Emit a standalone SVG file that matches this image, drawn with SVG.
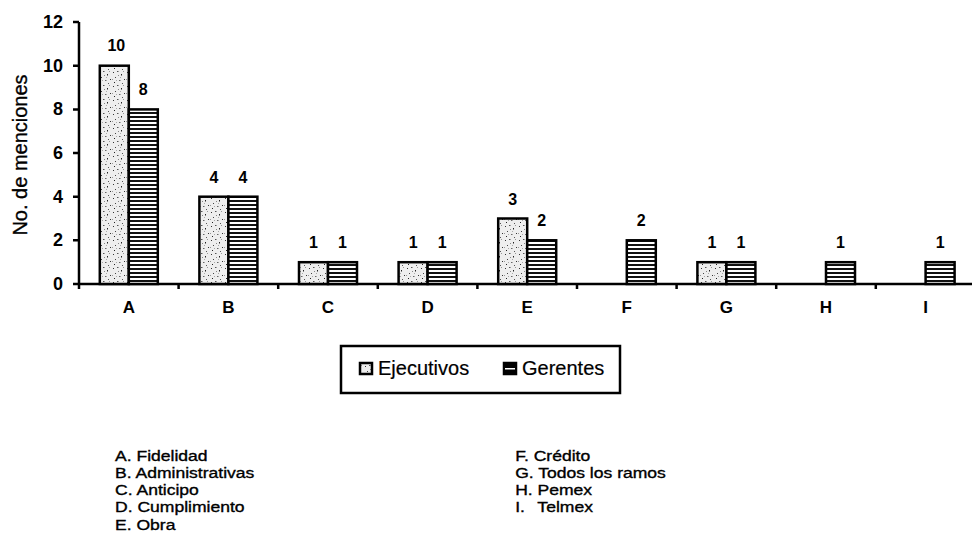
<svg xmlns="http://www.w3.org/2000/svg" width="972" height="549" viewBox="0 0 972 549">
<defs>
<pattern id="stip" width="14" height="14" patternUnits="userSpaceOnUse">
<rect width="14" height="14" fill="#eeeeee"/>
<rect x="1" y="2" width="1" height="1" fill="#333"/>
<rect x="5" y="1" width="1.5" height="1" fill="#555"/>
<rect x="9" y="4" width="1" height="1.5" fill="#222"/>
<rect x="3" y="7" width="1" height="1" fill="#444"/>
<rect x="12" y="9" width="1" height="1" fill="#333"/>
<rect x="7" y="10" width="1.5" height="1" fill="#666"/>
<rect x="2" y="12" width="1" height="1" fill="#222"/>
<rect x="10" y="13" width="1" height="1" fill="#555"/>
<rect x="6" y="5" width="1" height="1" fill="#888"/>
<rect x="11" y="1" width="1" height="1" fill="#999"/>
<rect x="0" y="9" width="1" height="1" fill="#999"/>
<rect x="8" y="7" width="1" height="1" fill="#aaa"/>
<rect x="4" y="10" width="1" height="1" fill="#aaa"/>
</pattern>
<pattern id="hstripe" width="8" height="4" patternUnits="userSpaceOnUse">
<rect width="8" height="4" fill="#fff"/>
<rect y="0" width="8" height="2" fill="#111"/>
</pattern>
</defs>
<style>
text{font-family:"Liberation Sans",Arial,sans-serif;fill:#000;stroke:#000;stroke-width:0.35}
.tick{font-size:18px;text-anchor:end;font-weight:bold;stroke-width:0}
.cat{font-size:17px;text-anchor:middle;font-weight:bold;stroke-width:0}
.val{font-size:16px;text-anchor:middle;font-weight:bold;stroke-width:0}
.note{font-size:15px}
.leg{font-size:20px;stroke-width:0.2}
.bar{stroke:#000;stroke-width:2.5}
.e{fill:url(#stip)}
.g{fill:url(#hstripe)}
.ax{stroke:#000;stroke-width:2.5;fill:none}
</style>
<rect width="972" height="549" fill="#fff"/>

<g id="axes">
<path class="ax" d="M79,22 V289 M79,284 H972"/>
<path class="ax" d="M73,22 H79 M73,65.7 H79 M73,109.4 H79 M73,153 H79 M73,196.7 H79 M73,240.3 H79 M73,284 H79"/>
<path class="ax" d="M178.6,284 V289 M278.2,284 V289 M377.8,284 V289 M477.4,284 V289 M577,284 V289 M676.6,284 V289 M776.2,284 V289 M875.8,284 V289"/>
<text class="tick" x="63" y="28">12</text>
<text class="tick" x="63" y="71.7">10</text>
<text class="tick" x="63" y="115.4">8</text>
<text class="tick" x="63" y="159">6</text>
<text class="tick" x="63" y="202.7">4</text>
<text class="tick" x="63" y="246.3">2</text>
<text class="tick" x="63" y="290">0</text>
<text x="27" y="155" font-size="20" text-anchor="middle" stroke-width="0.2" transform="rotate(-90 27 155)">No. de menciones</text>
</g>

<g id="cat-A">
<rect class="bar e" x="99.8" y="65.7" width="29" height="218.3"/>
<rect class="bar g" x="128.8" y="109.4" width="29" height="174.6"/>
<text class="val" x="116.3" y="51">10</text>
<text class="val" x="143.3" y="95">8</text>
<text class="cat" x="128.8" y="313">A</text>
</g>
<g id="cat-B">
<rect class="bar e" x="199.4" y="196.7" width="29" height="87.3"/>
<rect class="bar g" x="228.4" y="196.7" width="29" height="87.3"/>
<text class="val" x="213.9" y="182.5">4</text>
<text class="val" x="242.9" y="182.5">4</text>
<text class="cat" x="228.4" y="313">B</text>
</g>
<g id="cat-C">
<rect class="bar e" x="299" y="262.2" width="29" height="21.8"/>
<rect class="bar g" x="328" y="262.2" width="29" height="21.8"/>
<text class="val" x="313.5" y="248">1</text>
<text class="val" x="342.5" y="248">1</text>
<text class="cat" x="328" y="313">C</text>
</g>
<g id="cat-D">
<rect class="bar e" x="398.6" y="262.2" width="29" height="21.8"/>
<rect class="bar g" x="427.6" y="262.2" width="29" height="21.8"/>
<text class="val" x="413.1" y="248">1</text>
<text class="val" x="442.1" y="248">1</text>
<text class="cat" x="427.6" y="313">D</text>
</g>
<g id="cat-E">
<rect class="bar e" x="498.2" y="218.5" width="29" height="65.5"/>
<rect class="bar g" x="527.2" y="240.3" width="29" height="43.7"/>
<text class="val" x="512.7" y="204.5">3</text>
<text class="val" x="541.7" y="226.3">2</text>
<text class="cat" x="527.2" y="313">E</text>
</g>
<g id="cat-F">
<rect class="bar g" x="626.8" y="240.3" width="29" height="43.7"/>
<text class="val" x="641.3" y="226.3">2</text>
<text class="cat" x="626.8" y="313">F</text>
</g>
<g id="cat-G">
<rect class="bar e" x="697.4" y="262.2" width="29" height="21.8"/>
<rect class="bar g" x="726.4" y="262.2" width="29" height="21.8"/>
<text class="val" x="711.9" y="248">1</text>
<text class="val" x="740.9" y="248">1</text>
<text class="cat" x="726.4" y="313">G</text>
</g>
<g id="cat-H">
<rect class="bar g" x="826" y="262.2" width="29" height="21.8"/>
<text class="val" x="840.5" y="248">1</text>
<text class="cat" x="826" y="313">H</text>
</g>
<g id="cat-I">
<rect class="bar g" x="925.6" y="262.2" width="29" height="21.8"/>
<text class="val" x="940.1" y="248">1</text>
<text class="cat" x="925.6" y="313">I</text>
</g>

<g id="legend">
<rect x="341" y="346" width="279" height="47" fill="#fff" stroke="#000" stroke-width="2.5"/>
<rect x="360" y="363" width="12" height="11" fill="url(#stip)" stroke="#000" stroke-width="2.5"/>
<text class="leg" x="378" y="375">Ejecutivos</text>
<rect x="504" y="363" width="12" height="11" fill="#000" stroke="#000" stroke-width="2.5"/>
<rect x="505" y="368" width="10" height="1.5" fill="#fff"/>
<text class="leg" x="522" y="375">Gerentes</text>
</g>

<g id="notes" transform="translate(115,0) scale(1.17,1)">
<text class="note" x="0" y="461">A. Fidelidad</text>
<text class="note" x="0" y="478">B. Administrativas</text>
<text class="note" x="0" y="495">C. Anticipo</text>
<text class="note" x="0" y="512.5">D. Cumplimiento</text>
<text class="note" x="0" y="530">E. Obra</text>
<text class="note" x="342" y="461">F. Crédito</text>
<text class="note" x="342" y="478">G. Todos los ramos</text>
<text class="note" x="342" y="495">H. Pemex</text>
<text class="note" x="342" y="512.5">I.<tspan x="361">Telmex</tspan></text>
</g>
</svg>
